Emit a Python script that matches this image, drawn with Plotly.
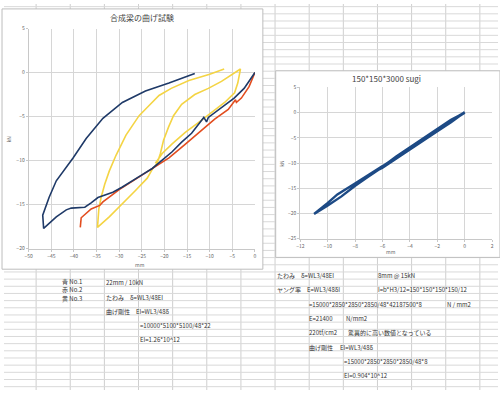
import plotly.graph_objects as go

# ---------------- data ----------------
left_title = "合成梁の曲げ試験"
right_title = "150*150*3000 sugi"

blue_x = [0, -2.4, -4.6, -7.4, -10.3, -10.7, -11.3, -14, -16.2, -18.3, -20.5, -22.7, -24.9, -27, -29.3,
          -31.4, -33.6, -34.7, -36.2, -37.6, -40.6, -41.7, -43.9, -45, -46.7, -46.9, -45.5, -43.9, -42,
          -40.2, -37.3, -35.8, -33.6, -29.3, -24.2, -19, -13.3]
blue_y = [0, -1.8, -2.9, -4.0, -5.1, -5.6, -5.1, -6.9, -7.9, -9.0, -10.0, -10.9, -11.6, -12.3, -13.0,
          -13.6, -14.0, -14.2, -14.8, -15.3, -15.4, -15.6, -16.4, -16.9, -17.7, -16.2, -14.2, -12.3, -11.0,
          -9.7, -7.5, -6.6, -5.2, -3.4, -2.1, -1.2, -0.1]

red_x = [0, -1.3, -3, -4.1, -4.3, -5.9, -8.9, -11.8, -15.5, -19, -22.7, -26.4, -30, -33.6, -34.3,
         -36.2, -38.4, -38.6]
red_y = [0, -1.6, -2.9, -3.4, -3.1, -4.2, -5.3, -6.6, -8.2, -9.7, -10.9, -12.1, -13.3, -14.7, -15.1,
         -15.5, -16.5, -17.6]

yellow_x = [-22, -20.5, -18.3, -15.4, -12.5, -9.6, -6.7, -4.5, -3.8, -3.2,
            -5.2, -7.4, -10.3, -13.3, -16.2, -18, -19.1, -20.2, -20.9, -21.6,
            -22.7, -23.8, -26.4, -29.3, -32.2, -34.8,
            -34.7, -34.5, -34, -33.2, -32.2, -30.7, -28.5, -25.6, -23.5, -21.2, -18.5, -14.6, -10, -6.8]
yellow_y = [-10.3, -9.2, -8.1, -6.8, -5.7, -4.6, -3.4, -2.3, -1.2, 0.4,
            -0.3, -1.0, -1.8, -2.5, -3.6, -4.9, -6.2, -7.7, -9.2, -10.3,
            -11.0, -12.0, -13.4, -14.9, -16.4, -17.6,
            -16.5, -15.5, -14.2, -12.7, -11.2, -9.4, -7.1, -4.9, -3.8, -2.6, -1.8, -0.9, -0.2, 0.4]

sugi_x = [0, -1, -2, -3, -4, -5, -6, -7, -8, -9, -10, -11.0,
          -10, -9.3, -8.1, -7, -6, -5, -4, -3, -2, -1, 0,
          -1, -2, -3, -4, -5, -6, -6.5, -6, -5, -4, -3, -2, -1, -0.3]
sugi_y = [0, -1.7, -3.5, -5.3, -7.1, -8.9, -10.8, -12.6, -14.5, -16.6, -18.4, -20.1,
          -17.9, -16.2, -14.2, -12.4, -10.6, -8.8, -7.0, -5.2, -3.3, -1.5, 0.1,
          -1.9, -3.7, -5.5, -7.3, -9.1, -10.9, -11.6, -10.7, -8.7, -6.9, -5.0, -3.2, -1.4, -0.4]

left_xticks = [-50, -45, -40, -35, -30, -25, -20, -15, -10, -5, 0]
left_yticks = [5, 0, -5, -10, -15, -20]
right_xticks = [-12, -10, -8, -6, -4, -2, 0, 2]
right_yticks = [5, 0, -5, -10, -15, -20, -25]

cell_texts = [
    ("青 No.1", 58, 282.8), ("22mm / 10kN", 102, 283.5),
    ("赤 No.2", 58, 291.1), ("黄 No.3", 58, 299.4), ("たわみ　δ=WL3/48EI", 102, 298.5),
    ("曲げ剛性　EI=WL3/48δ", 102, 313), ("=10000*5100*5100/48*22", 137, 327.5),
    ("EI=1.26*10^12", 137, 342),
    ("たわみ　δ=WL3/48EI", 275, 276), ("8mm @ 15kN", 378, 276),
    ("ヤング率　E=WL3/48δI", 275, 290.5), ("I=b*H3/12=150*150*150*150/12", 378, 290.5),
    ("=15000*2850*2850*2850/48*42187500*8", 308, 305.5), ("N / mm2", 447, 305.5),
    ("E=21400", 308, 320), ("N/mm2", 345, 320),
    ("220tf/cm2", 308, 334.5), ("驚異的に高い数値となっている", 347, 334.5),
    ("曲げ剛性", 308, 349.5), ("EI=WL3/48δ", 339, 349.5),
    ("=15000*2850*2850*2850/48*8", 343, 364), ("EI=0.904*10^12", 343, 378.5),
]

# ---------------- figure ----------------
W, H = 500, 393
def px(x): return x / W
def py(y): return 1 - y / H

FONT = "Noto Sans CJK JP, Noto Sans, sans-serif"
fig = go.Figure()

fig.add_trace(go.Scatter(x=yellow_x, y=yellow_y, mode="lines",
                         line=dict(color="#f4d444", width=1.6), xaxis="x", yaxis="y"))
fig.add_trace(go.Scatter(x=red_x, y=red_y, mode="lines",
                         line=dict(color="#e24d1f", width=1.6), xaxis="x", yaxis="y"))
fig.add_trace(go.Scatter(x=blue_x, y=blue_y, mode="lines",
                         line=dict(color="#1f3a68", width=1.6), xaxis="x", yaxis="y"))
fig.add_trace(go.Scatter(x=sugi_x, y=sugi_y, mode="lines",
                         line=dict(color="#1d4a85", width=2.4), xaxis="x2", yaxis="y2"))

axis_common = dict(showgrid=True, gridcolor="#d6d6d6", gridwidth=1, zeroline=False,
                   showline=True, linecolor="#c8c8c8", ticks="outside", ticklen=2,
                   tickcolor="#c8c8c8", tickfont=dict(size=5, color="#666666", family=FONT),
                   fixedrange=True)

fig.update_layout(
    width=W, height=H, margin=dict(l=0, r=0, t=0, b=0),
    paper_bgcolor="white", plot_bgcolor="white", showlegend=False,
    xaxis=dict(domain=[px(25), px(254)], range=[-50, 0], tickvals=left_xticks,
               anchor="y", **axis_common),
    yaxis=dict(domain=[py(249), py(25)], range=[-20, 5], tickvals=left_yticks,
               anchor="x", **axis_common),
    xaxis2=dict(domain=[px(300), px(494)], range=[-12, 2], tickvals=right_xticks,
                anchor="y2", **axis_common),
    yaxis2=dict(domain=[py(239), py(85)], range=[-25, 5], tickvals=right_yticks,
                anchor="x2", **axis_common),
)

shapes = []
# spreadsheet grid
col_x = [32.5 + 34.55 * i for i in range(14)]
for cx in col_x:
    shapes.append(dict(type="line", xref="paper", yref="paper", x0=px(cx), x1=px(cx),
                       y0=0, y1=1, line=dict(color="#cfcfcf", width=1), layer="below"))
for k in range(54):
    ry = 2.7 + 7.3 * k
    shapes.append(dict(type="line", xref="paper", yref="paper", x0=0, x1=1,
                       y0=py(ry), y1=py(ry), line=dict(color="#d9d9d9", width=1), layer="below"))
# chart boxes
shapes.append(dict(type="rect", xref="paper", yref="paper", x0=px(-2), x1=px(262),
                   y0=py(270), y1=py(5), fillcolor="white",
                   line=dict(color="#bdbdbd", width=1), layer="below"))
shapes.append(dict(type="rect", xref="paper", yref="paper", x0=px(275), x1=px(502),
                   y0=py(258), y1=py(68), fillcolor="white",
                   line=dict(color="#bdbdbd", width=1), layer="below"))
fig.update_layout(shapes=shapes)

ann = []
def label(text, x, y, size, color="#666666", angle=0):
    ann.append(dict(text=text, x=px(x), y=py(y), xref="paper", yref="paper", textangle=angle,
                    xanchor="center", yanchor="middle", showarrow=False,
                    font=dict(size=size, color=color, family=FONT)))

label(left_title, 140, 14, 8, "#444444")
label("kN", 5, 137, 5, angle=-90)
label("mm", 138, 265, 5)
label(right_title, 387, 76, 8, "#444444")
label("kN", 280, 162, 5, angle=-90)
label("mm", 392, 252, 5)
for t, x, y in cell_texts:
    ann.append(dict(text=t, x=px(x), y=py(y), xref="paper", yref="paper", xanchor="left",
                    yanchor="middle", showarrow=False, borderpad=0,
                    font=dict(size=6, color="#333333", family=FONT)))
fig.update_layout(annotations=ann)

fig.write_html("out.html", config={"displayModeBar": False},
               post_script="document.body.style.margin='0';")
